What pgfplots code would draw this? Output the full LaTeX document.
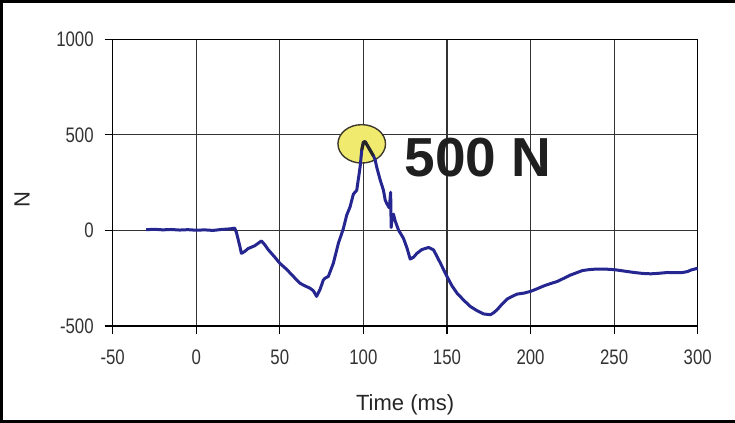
\documentclass[border=0pt]{standalone}
\usepackage{pgfplots}
\pgfplotsset{compat=1.18}
\usepackage{pgfplotstable}
\usepackage{fontspec}
\setmainfont{Liberation Sans}
\newfontfamily\narrowfont[FakeStretch=0.8]{Liberation Sans}
\definecolor{navy}{RGB}{38,38,145}
\definecolor{hl}{RGB}{240,234,110}
\pgfplotstableread{
t f
-30 4
-25 6
-20 3
-15 5
-10 2
-5 4
0 1
5 3
10 0
15 5
20 8
23 12
24 -10
26 -80
27 -120
29 -110
31 -95
35 -80
39 -55
41 -75
43 -100
47 -140
50 -172
54 -203
58 -240
62 -276
65 -290
68 -302
70 -315
72 -345
74 -310
76 -260
77 -250
79 -241
82 -172
85 -68
88 10
90 80
92 123
94 190
96 210
98 330
99 420
100 461
101 465
102 450
104 420
106 390
107 370
108 330
110 265
112 210
113 160
114 140
115.5 118
116.3 200
116.6 15
117.2 70
118 85
119 50
121 2
124 -42
126 -90
128 -150
130 -140
132 -120
135 -100
139 -89
142 -102
146 -170
150 -241
153 -290
156 -328
160 -365
164 -398
168 -420
172 -437
176 -441
178 -430
180 -415
183 -385
186 -359
189 -345
192 -333
196 -328
200 -319
204 -305
208 -290
212 -278
216 -267
220 -250
224 -233
228 -220
231 -210
235 -205
238 -203
242 -202
246 -203
250 -205
254 -210
258 -215
262 -220
267 -225
272 -227
277 -224
282 -220
287 -221
291 -220
294 -215
296 -207
300 -198
}\forcedata
\begin{document}
\begin{tikzpicture}
\begin{axis}[
  at={(0,0)}, anchor=south west,
  scale only axis,
  width=292.5pt, height=143.35pt,
  xmin=-50, xmax=300, ymin=-500, ymax=1000,
  xtick={-50,0,50,100,150,200,250,300},
  xticklabels={-50,0,50,100,150,200,250,300},
  ytick={-500,0,500,1000},
  yticklabels={-500,0,500,1000},
  xtick pos=left, ytick pos=left,
  tick align=outside,
  major tick length=4pt,
  tick style={black, line width=0.6pt},
  grid=major,
  grid style={black!80, line width=0.55pt},
  axis line style={black, line width=0.7pt},
  ticklabel style={font=\narrowfont\fontsize{10.5}{12}\selectfont, text=black!80},
  xticklabel style={yshift=-4.5pt},
  yticklabel style={xshift=-2pt},
  xlabel={Time (ms)},
  ylabel={N},
  label style={font=\fontsize{11}{13}\selectfont, text=black!85},
  xlabel style={at={(axis description cs:0.5,-0.275)}, anchor=center},
  ylabel style={at={(axis description cs:-0.155,0.44)}, anchor=center},
  clip=false,
]
\draw[fill=hl, draw=black!75!olive, line width=0.7pt] (axis cs:99,453) ellipse [x radius=11.9pt, y radius=9.6pt];
\addplot[navy, line width=1.5pt, line join=round] table[x=t, y=f] {\forcedata};
\addplot[black!85, line width=1.5pt, line join=round, restrict x to domain=98.7:106.5] table[x=t, y=f] {\forcedata};
\node[font=\bfseries\fontsize{27.5}{30}\selectfont, text=black!88] at (axis cs:168.6,381) {500 N};
\end{axis}
\pgfresetboundingbox
\useasboundingbox (-56.35pt,-48.5pt) rectangle (311.15pt,163pt);
\draw[black, line width=1.5pt] (311.15pt,162.25pt) -- (-55.6pt,162.25pt) -- (-55.6pt,-47.75pt) -- (311.15pt,-47.75pt);
\end{tikzpicture}
\end{document}
